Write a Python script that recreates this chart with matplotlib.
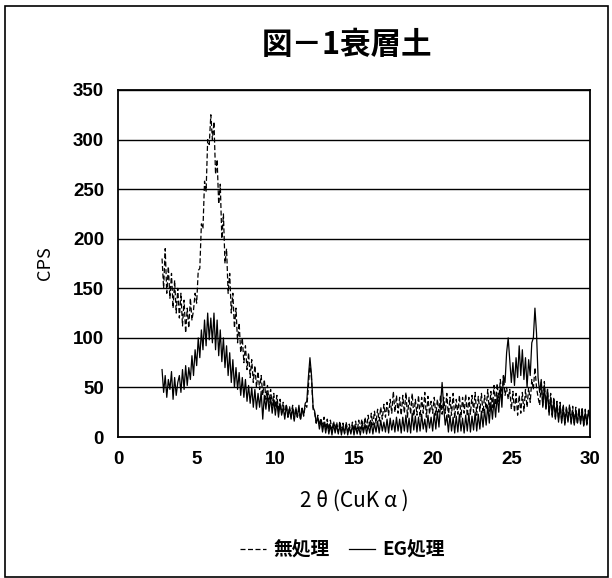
import numpy as np
import matplotlib
matplotlib.use("Agg")
import matplotlib.pyplot as plt
from matplotlib.patches import Rectangle

# scan axis: 2.8 .. 30.0 deg, 0.1 deg steps
two_theta = np.round(np.arange(2.8, 30.05, 0.1), 1)

# 無処理 (dashed), values
untreated = [
    180, 150, 190, 145, 172, 140, 165, 130, 158, 125, 150, 120,
    145, 112, 138, 105, 130, 110, 140, 118, 128, 145,
    135, 168, 170, 215, 210, 258, 248, 300, 295, 325,
    300, 318, 265, 280, 235, 255, 200, 225, 175, 190,
    145, 165, 125, 145, 110, 130, 95, 115, 85, 100,
    75, 92, 68, 85, 60, 78, 55, 72, 50, 66,
    48, 62, 42, 58, 38, 52, 35, 48, 32, 44,
    30, 42, 26, 38, 24, 35, 22, 33, 20, 31,
    22, 32, 18, 30, 20, 28, 17, 29, 21, 32,
    30, 50, 75, 58, 28, 24, 14, 22, 12, 19,
    10, 20, 8, 18, 7, 17, 6, 16, 8, 15,
    5, 16, 6, 14, 4, 15, 6, 13, 5, 15,
    6, 16, 5, 17, 8, 18, 7, 20, 9, 22,
    10, 24, 12, 26, 14, 28, 16, 30, 18, 33,
    20, 35, 22, 38, 24, 46, 25, 42, 24, 40,
    22, 42, 24, 45, 20, 40, 23, 44, 21, 38,
    22, 42, 20, 40, 24, 45, 20, 41, 23, 36,
    24, 40, 22, 38, 25, 42, 23, 40, 24, 44,
    20, 40, 22, 44, 19, 38, 23, 42, 20, 40,
    24, 43, 21, 40, 23, 42, 25, 45, 22, 41,
    26, 44, 24, 42, 28, 48, 26, 46, 30, 52,
    32, 54, 36, 58, 40, 62, 42, 50, 38, 48,
    28, 46, 25, 44, 22, 42, 24, 45, 26, 48,
    30, 50, 35, 58, 48, 70, 50, 40, 32, 55,
    32, 56, 28, 48, 24, 44, 22, 40, 20, 36,
    18, 35, 16, 33, 14, 31, 17, 33, 15, 31,
    14, 30, 13, 29, 15, 30, 12, 28, 13, 27,
    22,
]

# EG処理 (solid)
eg_treated = [
    68, 45, 62, 40, 58, 48, 66, 38, 60, 42, 55, 62,
    45, 68, 48, 72, 52, 70, 58, 82, 62, 88,
    72, 100, 80, 108, 88, 118, 92, 125, 98, 120,
    95, 125, 88, 118, 82, 108, 76, 100, 70, 92,
    62, 85, 55, 78, 50, 70, 48, 65, 42, 60,
    40, 58, 36, 52, 34, 50, 30, 48, 28, 44,
    30, 46, 18, 42, 28, 44, 26, 40, 24, 38,
    22, 36, 20, 34, 22, 30, 18, 32, 20, 28,
    18, 30, 16, 28, 20, 32, 18, 29, 22, 34,
    36, 60, 80, 62, 30, 26, 14, 20, 8, 17,
    5, 15, 4, 14, 3, 12, 2, 13, 4, 12,
    3, 12, 2, 11, 3, 13, 2, 10, 3, 12,
    2, 11, 3, 10, 2, 12, 4, 13, 3, 12,
    4, 15, 3, 14, 5, 16, 4, 17, 6, 15,
    5, 18, 4, 19, 7, 17, 5, 20, 6, 18,
    4, 20, 6, 22, 5, 19, 4, 24, 7, 21,
    5, 20, 6, 23, 8, 18, 5, 22, 9, 20,
    6, 24, 8, 26, 10, 32, 55, 30, 12, 22,
    5, 22, 6, 20, 4, 21, 5, 23, 6, 19,
    4, 22, 6, 24, 5, 21, 7, 25, 6, 23,
    8, 26, 10, 28, 12, 32, 14, 35, 18, 38,
    20, 42, 25, 50, 30, 62, 55, 85, 100, 78,
    55, 75, 52, 80, 60, 92, 62, 88, 58, 80,
    50, 78, 62, 95, 100, 130, 105, 60, 45, 58,
    30, 52, 28, 48, 22, 40, 20, 38, 18, 34,
    15, 32, 14, 30, 12, 28, 15, 30, 13, 27,
    12, 26, 14, 28, 13, 27, 11, 25, 12, 26,
    18,
]

x_ticks = [0, 5, 10, 15, 20, 25, 30]
y_ticks = [0, 50, 100, 150, 200, 250, 300, 350]

cjk = ['Noto Sans CJK JP', 'DejaVu Sans']

fig = plt.figure(figsize=(6.12, 5.78), dpi=100)
ax = fig.add_axes([118 / 612, 1 - 437 / 578, 472 / 612, 347 / 578])

# outer frame
fig.patches.append(Rectangle((5 / 612, 1 / 578), 603 / 612, 571 / 578,
                             transform=fig.transFigure, fill=False,
                             edgecolor='black', linewidth=1.2))

ax.plot(two_theta, untreated, color='black', linewidth=0.9,
        linestyle=(0, (4, 2)), label='無処理')
ax.plot(two_theta, eg_treated, color='black', linewidth=0.9,
        label='EG処理')

ax.set_xlim(0, 30)
ax.set_ylim(0, 350)
ax.set_xticks(x_ticks)
ax.set_yticks(y_ticks)
ax.yaxis.grid(True, color='black', linewidth=1.0)
ax.set_axisbelow(True)
ax.tick_params(length=0, pad=10)
for lab in ax.get_xticklabels() + ax.get_yticklabels():
    lab.set_fontfamily('Liberation Sans')
    lab.set_fontweight('bold')
    lab.set_fontsize(13.5)
for sp in ax.spines.values():
    sp.set_linewidth(1.3)

ax.set_xlabel('2 θ (CuK α )', family=cjk, fontsize=15, labelpad=16)
ax.set_ylabel('CPS', family=cjk, fontsize=13, labelpad=14)

fig.text(0.567, 1 - 45 / 578, '図－1衰層土', family=cjk, fontsize=22,
         fontweight='bold', ha='center', va='center')

leg = ax.legend(loc='center', bbox_to_anchor=(0.56, 1 - 550 / 578),
                bbox_transform=fig.transFigure, ncol=2, frameon=False,
                handlelength=1.4, handletextpad=0.4, columnspacing=1.0,
                prop={'family': cjk, 'weight': 'bold', 'size': 13.5})

fig.savefig('out.png', dpi=100)
